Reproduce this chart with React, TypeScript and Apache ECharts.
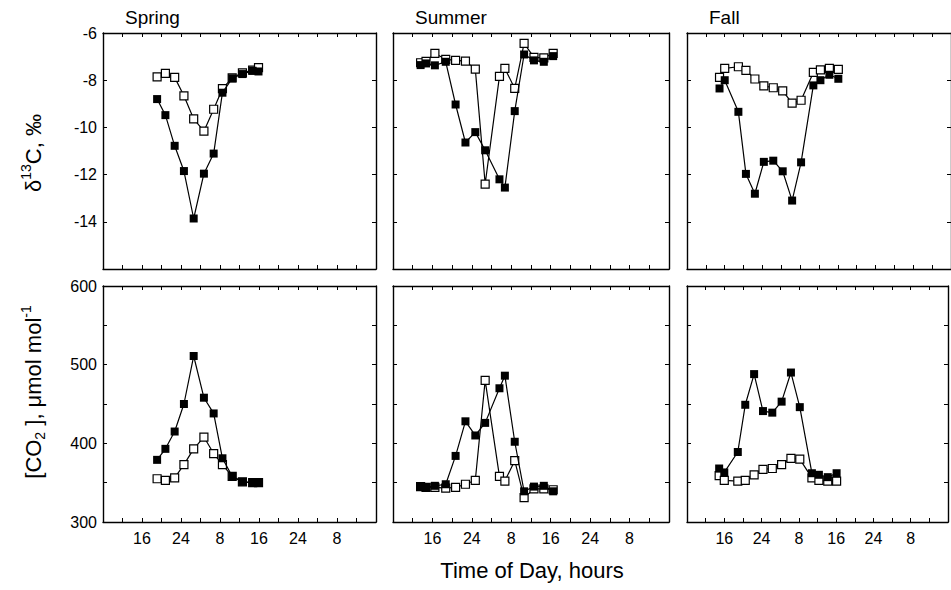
import React, { useEffect, useRef } from "react";
import * as echarts from "echarts";

// Sampling times in hours from the start of day 0 (24 = midnight, 32 = 08:00 of day 1)
const springHours = [19.1, 20.8, 22.7, 24.6, 26.6, 28.7, 30.7, 32.5, 34.5, 36.6, 38.7, 39.9];
const summerHours = [13.6, 14.7, 16.5, 18.7, 20.7, 22.7, 24.7, 26.7, 29.6, 30.7, 32.7, 34.6, 36.6, 38.6, 40.5];
const fallHours = [14.9, 16.0, 18.9, 20.5, 22.4, 24.3, 26.3, 28.3, 30.3, 32.2, 34.8, 36.3, 38.2, 40.1];

// δ13C (‰): filled = lower canopy, open = upper canopy
const springD13CFilled = [-8.8, -9.48, -10.78, -11.85, -13.86, -11.96, -11.11, -8.53, -7.92, -7.74, -7.6, -7.63];
const springD13COpen = [-7.86, -7.71, -7.88, -8.66, -9.64, -10.16, -9.23, -8.36, -7.9, -7.69, -7.57, -7.47];
const summerD13CFilled = [-7.36, -7.29, -7.37, -7.22, -9.03, -10.64, -10.2, -10.97, -12.2, -12.55, -9.31, -6.91, -7.16, -7.22, -6.98];
const summerD13COpen = [-7.26, -7.2, -6.86, -7.12, -7.16, -7.19, -7.53, -12.4, -7.84, -7.5, -8.35, -6.44, -7.03, -7.05, -6.86];
const fallD13CFilled = [-8.35, -8.0, -9.34, -11.97, -12.81, -11.46, -11.41, -11.86, -13.1, -11.48, -8.22, -8.0, -7.77, -7.94];
const fallD13COpen = [-7.88, -7.5, -7.43, -7.58, -7.95, -8.24, -8.32, -8.45, -8.97, -8.85, -7.67, -7.56, -7.5, -7.54];

// [CO2] (µmol mol-1)
const springCO2Filled = [379, 393, 415, 450, 511, 458, 438, 381, 358, 351, 350, 350];
const springCO2Open = [355, 353, 356, 373, 393, 408, 387, 373, 358, 351, 350, 350];
const summerCO2Filled = [345, 344, 346, 348, 384, 428, 410, 426, 470, 486, 402, 339, 345, 346, 339];
const summerCO2Open = [345, 344, 344, 343, 344, 348, 353, 480, 358, 352, 378, 331, 342, 342, 341];
const fallCO2Filled = [368, 363, 389, 449, 488, 441, 439, 453, 490, 446, 362, 360, 357, 362];
const fallCO2Open = [359, 353, 352, 353, 360, 367, 368, 373, 381, 380, 356, 353, 352, 352];

// Tick labels
const xTickValues = [16, 24, 32, 40, 48, 56];
const xTickLabels = ["16", "24", "8", "16", "24", "8"];
const d13cTickLabels = [-6, -8, -10, -12, -14];
const co2TickLabels = [300, 400, 500, 600];

const seasons = ["Spring", "Summer", "Fall"];

const FONT = "'Liberation Sans', Arial, Helvetica, sans-serif";

// Panel layout (pixels)
const colLeft = [103, 393, 687];
const colWidth = [273, 276, 276];
const rowTop = [33, 286];
const rowHeight = 236;

const seasonData = [
  { hours: springHours, d13c: [springD13COpen, springD13CFilled], co2: [springCO2Open, springCO2Filled] },
  { hours: summerHours, d13c: [summerD13COpen, summerD13CFilled], co2: [summerCO2Open, summerCO2Filled] },
  { hours: fallHours, d13c: [fallD13COpen, fallD13CFilled], co2: [fallCO2Open, fallCO2Filled] },
];

const lineStyleAxis = { color: "#000", width: 1.4 };

function buildOption() {
  const grid: any[] = [];
  const xAxis: any[] = [];
  const yAxis: any[] = [];
  const series: any[] = [];

  for (let r = 0; r < 2; r++) {
    for (let c = 0; c < 3; c++) {
      const gi = grid.length;
      grid.push({
        left: colLeft[c],
        top: rowTop[r],
        width: colWidth[c],
        height: rowHeight,
        containLabel: false,
      });

      const xBase = {
        type: "value",
        gridIndex: gi,
        min: 8,
        max: 64,
        interval: 4,
        splitLine: { show: false },
        axisLine: { show: true, onZero: false, lineStyle: lineStyleAxis },
        axisTick: { show: true, inside: true, length: 4, lineStyle: { color: "#000", width: 1 } },
      };
      xAxis.push({
        ...xBase,
        position: "bottom",
        axisLabel: {
          show: r === 1,
          margin: 8,
          color: "#000",
          fontSize: 16,
          fontFamily: FONT,
          formatter: (v: number) => {
            const i = xTickValues.indexOf(Math.round(v));
            return i >= 0 ? xTickLabels[i] : "";
          },
        },
      });
      xAxis.push({ ...xBase, position: "top", axisLabel: { show: false } });

      const yRange =
        r === 0
          ? { min: -16, max: -6, interval: 2, labels: d13cTickLabels }
          : { min: 300, max: 600, interval: 50, labels: co2TickLabels };
      const yBase = {
        type: "value",
        gridIndex: gi,
        min: yRange.min,
        max: yRange.max,
        interval: yRange.interval,
        splitLine: { show: false },
        axisLine: { show: true, onZero: false, lineStyle: lineStyleAxis },
        axisTick: { show: true, inside: true, length: 4, lineStyle: { color: "#000", width: 1 } },
      };
      yAxis.push({
        ...yBase,
        position: "left",
        axisLabel: {
          show: c === 0,
          margin: 6,
          color: "#000",
          fontSize: 16,
          fontFamily: FONT,
          formatter: (v: number) => (yRange.labels.includes(Math.round(v)) ? String(Math.round(v)) : ""),
        },
      });
      yAxis.push({ ...yBase, position: "right", axisLabel: { show: false } });

      const xi = gi * 2;
      const yi = gi * 2;
      const d = seasonData[c];
      const pair = r === 0 ? d.d13c : d.co2;
      // open squares first, filled squares drawn on top
      pair.forEach((vals, k) => {
        series.push({
          type: "line",
          xAxisIndex: xi,
          yAxisIndex: yi,
          data: d.hours.map((h, i) => [h, vals[i]]),
          symbol: "rect",
          symbolSize: 8,
          showAllSymbol: true,
          z: 2 + k,
          lineStyle: { color: "#000", width: 1.2 },
          itemStyle:
            k === 0
              ? { color: "#fff", borderColor: "#000", borderWidth: 1.2 }
              : { color: "#000", borderColor: "#000", borderWidth: 0 },
          emphasis: { disabled: true },
        });
      });
    }
  }

  const graphic: any[] = [];
  seasons.forEach((s, c) => {
    graphic.push({
      type: "text",
      x: colLeft[c] + 22,
      y: 17,
      style: { text: s, fontSize: 19, fontFamily: FONT, fill: "#000", align: "left", verticalAlign: "middle" },
    });
  });

  const richBase = {
    m: { fontSize: 22, fontFamily: FONT, fill: "#000", lineHeight: 28 },
    sup: { fontSize: 14, fontFamily: FONT, fill: "#000", verticalAlign: "top", lineHeight: 28 },
    sub: { fontSize: 14, fontFamily: FONT, fill: "#000", verticalAlign: "bottom", lineHeight: 28 },
  };

  graphic.push({
    type: "text",
    x: 33,
    y: 153,
    rotation: Math.PI / 2,
    style: {
      text: "{m|δ}{sup|13}{m|C, ‰}",
      rich: richBase,
      align: "center",
      verticalAlign: "middle",
    },
  });
  graphic.push({
    type: "text",
    x: 33,
    y: 392,
    rotation: Math.PI / 2,
    style: {
      text: "{m|[CO}{sub|2}{m| ], μmol mol}{sup|-1}",
      rich: richBase,
      align: "center",
      verticalAlign: "middle",
    },
  });
  graphic.push({
    type: "text",
    x: 532,
    y: 570,
    style: {
      text: "Time of Day, hours",
      fontSize: 22,
      fontFamily: FONT,
      fill: "#000",
      align: "center",
      verticalAlign: "middle",
    },
  });

  return {
    animation: false,
    backgroundColor: "#fff",
    textStyle: { fontFamily: FONT },
    grid,
    xAxis,
    yAxis,
    series,
    graphic,
  };
}

export default function App() {
  const ref = useRef<HTMLDivElement>(null);
  useEffect(() => {
    if (!ref.current) return;
    const chart = echarts.init(ref.current, undefined, { renderer: "svg" });
    chart.setOption(buildOption() as any);
    return () => chart.dispose();
  }, []);
  return (
    <div
      ref={ref}
      style={{ position: "fixed", left: 0, top: 0, width: 951, height: 590, background: "#fff" }}
    />
  );
}
